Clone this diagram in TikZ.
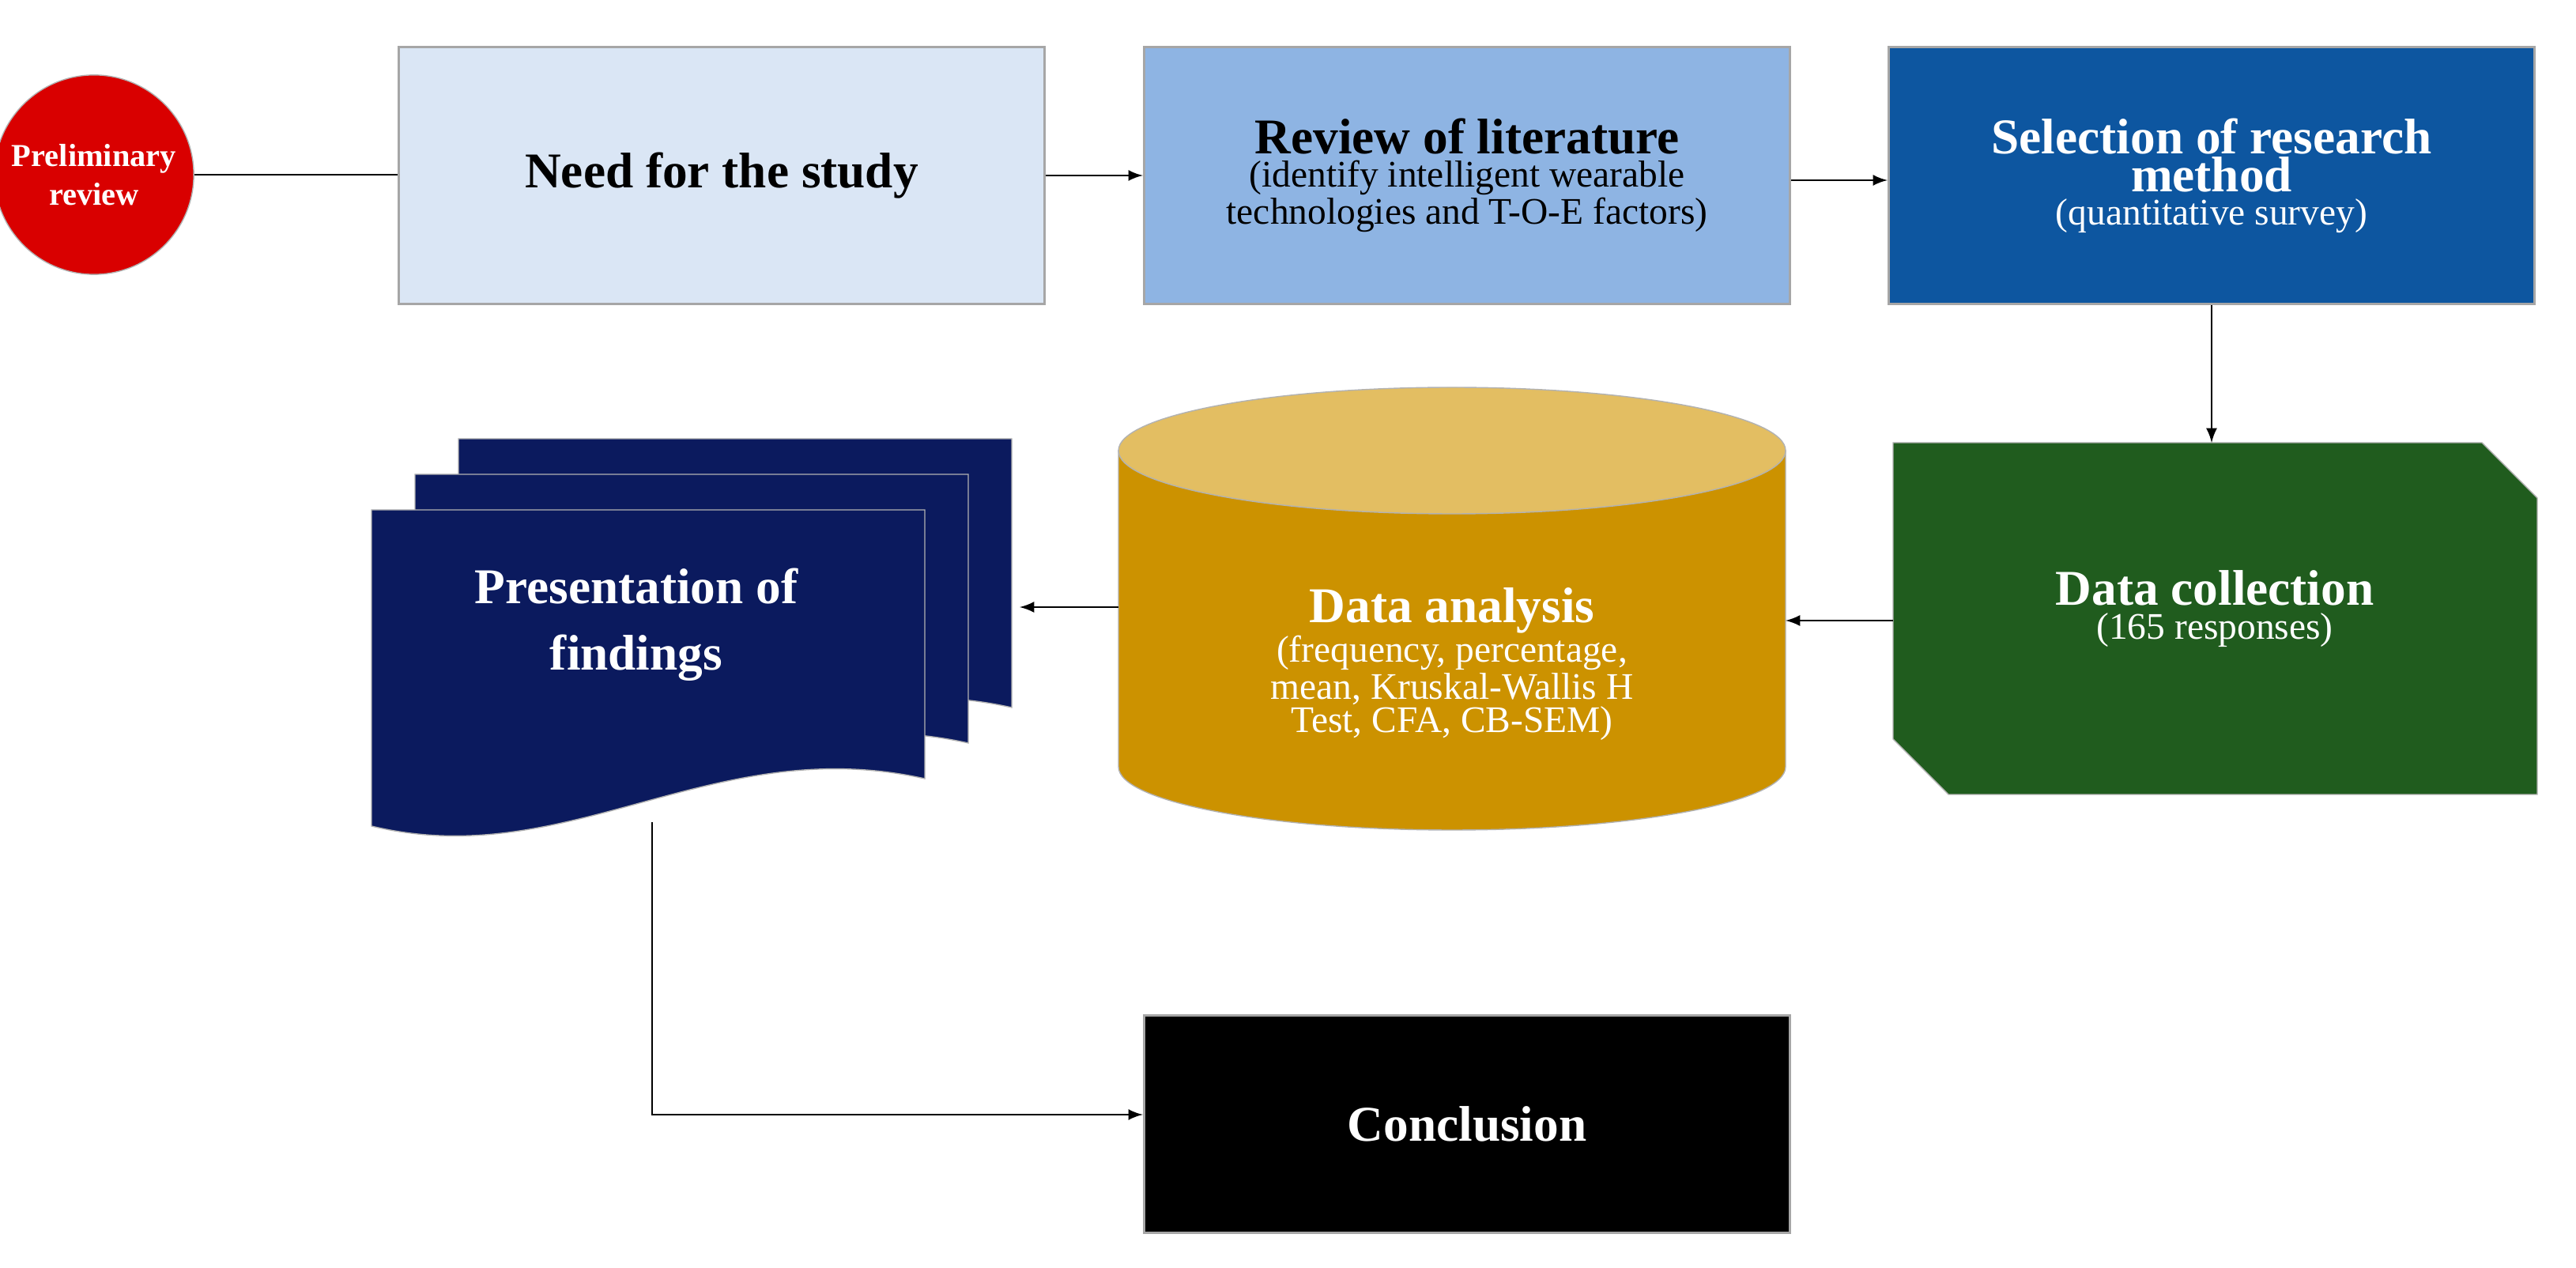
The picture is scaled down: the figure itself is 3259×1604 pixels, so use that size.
\documentclass[tikz,border=0pt]{standalone}
\usepackage{fontspec}
\setmainfont{Liberation Serif}
\newcommand{\Ttl}{\bfseries\fontsize{18}{24}\selectfont}
\newcommand{\Sbt}{\fontsize{13.5}{17.5}\selectfont}
\begin{document}
\begin{tikzpicture}[x=0.01cm,y=-0.01cm,
  box/.style={draw=gray!70,line width=0.8pt,minimum width=8.17cm,minimum height=3.25cm,align=center,inner sep=0},
  con/.style={line width=0.8pt,-latex}]
\useasboundingbox (0,0) rectangle (3259,1604);
\definecolor{lb}{HTML}{DAE6F5}\definecolor{mb}{HTML}{8EB4E3}\definecolor{db}{HTML}{0D56A0}
\definecolor{gr}{HTML}{205C1E}\definecolor{gd}{HTML}{CC9200}\definecolor{gt}{HTML}{E3BE62}
\definecolor{nv}{HTML}{0B1A5E}
% circle
\node[circle,fill=red!85!black,draw=gray!60,minimum size=2.0cm,text=white,align=center,font=\bfseries\fontsize{11.5}{14}\selectfont] (pre) at (119,221) {Preliminary\\review};
\node[box,fill=lb] (need) at (913,222) {\Ttl Need for the study};
\node[box,fill=mb] (rev) at (1856,222) {{\Ttl Review of literature}\\{\Sbt (identify intelligent wearable}\\{\Sbt technologies and T-O-E factors)}};
\node[box,fill=db,text=white] (sel) at (2798,222) {{\Ttl Selection of research}\\{\Ttl method}\\{\Sbt (quantitative survey)}};
% data collection
\fill[gr,draw=gray!60] (2395,560) -- (3140,560) -- (3210,630) -- (3210,1005) -- (2465,1005) -- (2395,935) -- cycle;
\node[text=white,align=center] (col) at (2802,770) {{\Ttl Data collection}\\{\Sbt (165 responses)}};
\coordinate (colT) at (2798,560); \coordinate (colL) at (2395,785);
% cylinder
\fill[gd,draw=gray!60] (1415,570) -- (1415,970) arc[start angle=180,end angle=360,x radius=422,y radius=-80] -- (2259,570) -- cycle;
\fill[gt,draw=gray!60] (1837,570) ellipse[x radius=422,y radius=80];
\node[text=white,align=center] (ana) at (1837,840) {{\Ttl Data analysis}\\{\Sbt (frequency, percentage,}\\{\Sbt mean, Kruskal-Wallis H}\\{\Sbt Test, CFA, CB-SEM)}};
\coordinate (anaR) at (2259,785); \coordinate (anaL) at (1415,768);
% documents
\foreach \dx/\dy in {110/-90,55/-45,0/0}{
\fill[nv,draw=gray!60] (470+\dx,645+\dy) -- (1170+\dx,645+\dy) -- (1170+\dx,985+\dy)
  .. controls (900+\dx,925+\dy) and (720+\dx,1105+\dy) .. (470+\dx,1045+\dy) -- cycle;}
\node[text=white,align=center,font=\Ttl] (pres) at (805,790) {Presentation of\\findings};
\coordinate (presR) at (1290,768); \coordinate (presB) at (825,1040); \coordinate (bend) at (825,1410);
\node[box,fill=black,text=white,minimum height=2.75cm] (conc) at (1856,1422) {\Ttl Conclusion};
% connectors
\draw[line width=0.8pt] (pre.east) -- (pre.east -| need.west);
\draw[con] (need.east |- 0,222) -- (rev.west |- 0,222);
\draw[con] (rev.east |- 0,228) -- (sel.west |- 0,228);
\draw[con] (sel.south) -- (colT);
\draw[con] (colL) -- (anaR);
\draw[con] (anaL) -- (presR);
\draw[con] (presB) -- (bend) -- (bend -| conc.west);
\end{tikzpicture}
\end{document}
